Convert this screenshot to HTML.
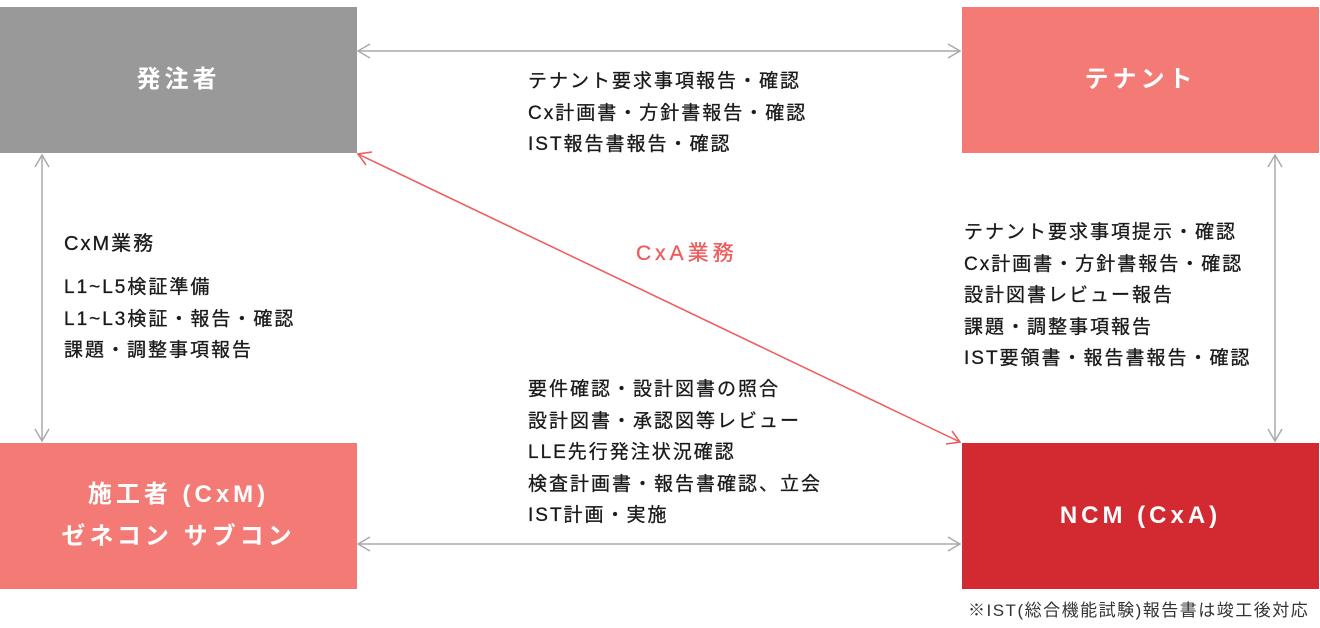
<!DOCTYPE html>
<html><head><meta charset="utf-8"><style>
body{margin:0;width:1320px;height:628px;background:#fff;position:relative;overflow:hidden;font-family:"Liberation Sans","Noto Sans CJK JP",sans-serif;}
.box{position:absolute;width:357px;height:146px;display:flex;align-items:center;justify-content:center;color:#fff;font-weight:bold;font-size:24px;letter-spacing:4px;text-align:center;line-height:42px;}
.t{position:absolute;font-size:19px;color:#1a1a1a;line-height:31.5px;letter-spacing:2px;white-space:nowrap;-webkit-text-stroke:0.3px #1a1a1a;}
</style></head><body>
<div class="box" style="left:0;top:7px;background:#999;">発注者</div>
<div class="box" style="left:962px;top:7px;background:#f47a75;">テナント</div>
<div class="box" style="left:0;top:443px;background:#f47a75;">施工者 (CxM)<br>ゼネコン サブコン</div>
<div class="box" style="left:962px;top:443px;background:#d32a32;">NCM (CxA)</div>
<svg width="1320" height="628" style="position:absolute;left:0;top:0" fill="none" stroke-width="1.5">
<g stroke="#aaa">
<line x1="358" y1="51" x2="960" y2="51"/><polyline points="370,44 358,51 370,58"/><polyline points="948,44 960,51 948,58"/>
<line x1="358" y1="544" x2="960" y2="544"/><polyline points="370,537 358,544 370,551"/><polyline points="948,537 960,544 948,551"/>
<line x1="42" y1="155" x2="42" y2="441"/><polyline points="35,167 42,155 49,167"/><polyline points="35,429 42,441 49,429"/>
<line x1="1275" y1="155" x2="1275" y2="441"/><polyline points="1268,167 1275,155 1282,167"/><polyline points="1268,429 1275,441 1282,429"/>
</g>
<g stroke="#ef5a5a">
<line x1="358" y1="154" x2="960" y2="442"/><polyline points="372,152 358,154 366,165"/><polyline points="946,444 960,442 952,431"/>
</g>
</svg>
<div class="t" style="left:528px;top:66px;">テナント要求事項報告・確認<br>Cx計画書・方針書報告・確認<br>IST報告書報告・確認</div>
<div class="t" style="left:636px;top:238px;color:#ef5a5a;-webkit-text-stroke:0.3px #ef5a5a;font-size:21px;letter-spacing:4px;">CxA業務</div>
<div class="t" style="left:64px;top:229px;font-size:20px;">CxM業務</div>
<div class="t" style="left:64px;top:272px;">L1~L5検証準備<br>L1~L3検証・報告・確認<br>課題・調整事項報告</div>
<div class="t" style="left:964px;top:217px;">テナント要求事項提示・確認<br>Cx計画書・方針書報告・確認<br>設計図書レビュー報告<br>課題・調整事項報告<br>IST要領書・報告書報告・確認</div>
<div class="t" style="left:528px;top:374px;">要件確認・設計図書の照合<br>設計図書・承認図等レビュー<br>LLE先行発注状況確認<br>検査計画書・報告書確認、立会<br>IST計画・実施</div>
<div class="t" style="left:968px;top:598px;font-size:17px;letter-spacing:1.5px;line-height:26px;color:#333;-webkit-text-stroke:0;">※IST(総合機能試験)報告書は竣工後対応</div>
</body></html>
